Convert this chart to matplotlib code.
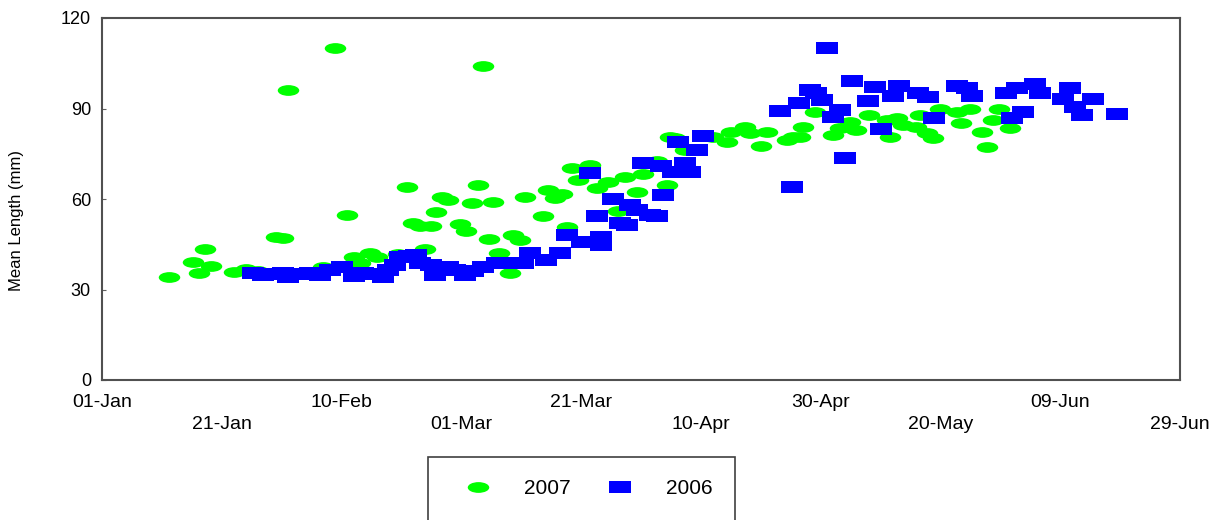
import matplotlib
matplotlib.use("Agg")
import matplotlib.pyplot as plt
from matplotlib.path import Path
from matplotlib.transforms import Affine2D, ScaledTranslation
from matplotlib.patches import Rectangle

plt.rcParams['font.family'] = ['Liberation Sans', 'DejaVu Sans']

# days since 01-Jan and mean length (mm)
days2007 = [11.2, 15.2, 16.2, 17.2, 18.2, 22.0, 24.0, 26.0, 29.1, 30.2, 31.1, 36.9,
            38.9, 40.9, 42.0, 43.1, 44.7, 46.0, 49.5, 50.9, 51.9, 53.1, 53.9, 55.0,
            55.7, 56.7, 57.8, 59.8, 60.8, 61.7, 62.7, 63.7, 64.7, 65.3, 66.3, 68.1,
            68.7, 69.8, 70.6, 73.6, 74.5, 75.6, 76.8, 77.6, 78.4, 79.5, 81.5, 82.6,
            84.5, 86.2, 87.3, 89.3, 90.4, 92.6, 94.3, 94.8, 95.7, 97.3, 102.1, 104.3,
            105.1, 107.4, 108.2, 110.1, 111.0, 114.3, 115.4, 116.5, 117.1, 119.0, 122.1,
            123.2, 124.9, 125.9, 128.0, 131.0, 131.6, 132.7, 133.8, 136.0, 136.6, 137.7,
            138.8, 139.9, 142.7, 143.5, 144.9, 146.9, 147.8, 148.8, 149.7, 151.6]
len2007 = [34.1, 39.1, 35.5, 43.4, 37.8, 35.8, 36.8, 36.0, 47.4, 47.1, 96.1, 37.5,
           110.0, 54.7, 40.9, 38.7, 42.0, 40.9, 41.8, 63.9, 51.9, 51.0, 43.4, 51.0,
           55.7, 60.8, 59.7, 51.6, 49.5, 58.6, 64.5, 104.2, 46.7, 58.9, 42.0, 35.4,
           48.1, 46.4, 60.8, 54.5, 63.0, 60.2, 61.7, 50.6, 70.2, 66.3, 71.3, 63.7,
           65.7, 56.0, 67.2, 62.4, 68.3, 72.7, 64.6, 80.6, 80.1, 76.2, 80.6, 79.0,
           82.3, 84.0, 81.8, 77.7, 82.3, 79.5, 80.6, 80.6, 84.0, 88.9, 81.2,
           83.4, 85.6, 82.9, 87.8, 86.2, 80.6, 86.7, 84.5, 84.0, 87.8, 81.8,
           80.1, 90.0, 88.9, 85.1, 90.0, 82.3, 77.1, 86.2, 90.0, 83.4]

days2006 = [25.2, 26.9, 28.5, 30.3, 31.1, 33.0, 34.7, 36.4, 38.1, 40.0, 42.0, 43.6,
            45.5, 47.0, 47.8, 48.9, 49.7, 51.2, 52.5, 53.1, 55.0, 55.6, 57.8, 59.0,
            60.6, 62.0, 63.7, 65.9, 68.1, 70.3, 71.4, 74.2, 76.5, 77.6, 80.1, 81.5,
            82.6, 83.4, 83.4, 85.4, 86.5, 87.6, 88.2, 89.3, 90.4, 91.5, 92.6, 93.4,
            93.7, 95.4, 96.2, 97.3, 98.2, 99.3, 100.4, 113.2, 115.2, 116.3, 118.2,
            119.3, 120.2, 121.1, 122.1, 123.2, 124.1, 125.2, 127.9, 129.1, 130.0,
            132.0, 133.0, 136.3, 138.0, 138.9, 142.8, 144.5, 145.3, 151.0, 151.9,
            152.7, 153.8, 155.8, 156.6, 160.5, 161.6, 162.5, 163.6, 165.5, 169.4]
len2006 = [35.4, 34.8, 35.2, 35.4, 34.0, 35.0, 35.4, 34.8, 36.5, 37.6, 34.5, 35.4,
           35.0, 34.2, 36.5, 38.1, 40.9, 41.0, 41.4, 38.7, 38.1, 34.8, 37.6, 36.5,
           34.8, 36.0, 37.6, 38.7, 38.7, 38.7, 42.0, 39.8, 42.0, 48.1, 45.8, 68.5,
           54.5, 47.5, 44.7, 59.9, 51.9, 51.4, 58.0, 56.5, 72.0, 54.7, 54.4, 70.9,
           61.3, 69.0, 79.0, 71.8, 69.0, 76.2, 81.0, 89.3, 64.1, 91.7, 96.1,
           95.0, 92.8, 110.2, 87.3, 89.5, 73.5, 99.1, 92.6, 97.2, 83.2,
           94.1, 97.4, 95.0, 93.7, 87.0, 97.5, 96.7, 94.0, 95.0, 86.7,
           96.7, 88.9, 98.2, 95.0, 93.0, 96.7, 90.6, 87.8, 93.0, 88.2]

tick_days = [0, 20, 40, 60, 80, 100, 120, 140, 160, 180]
tick_names = ['01-Jan', '21-Jan', '10-Feb', '01-Mar', '21-Mar', '10-Apr',
              '30-Apr', '20-May', '09-Jun', '29-Jun']

# wide markers like the stretched original
ellipse = Path.unit_circle().transformed(Affine2D().scale(1.0, 0.5))
rect = Path([(-1, -0.52), (1, -0.52), (1, 0.52), (-1, 0.52), (-1, -0.52)],
            [Path.MOVETO, Path.LINETO, Path.LINETO, Path.LINETO, Path.CLOSEPOLY])

fig = plt.figure(figsize=(12.17, 5.2), dpi=100)
ax = fig.add_axes([102/1217, 1 - 380/520, (1180-102)/1217, (380-18)/520])

ax.plot(days2007, len2007, linestyle='none', marker=ellipse, markersize=15.5,
        color='#00ff00', markeredgewidth=0, label='2007')
ax.plot(days2006, len2006, linestyle='none', marker=rect, markersize=15.5,
        color='#0000ff', markeredgewidth=0, label='2006')

ax.set_xlim(0, 180)
ax.set_ylim(0, 120)
ax.set_yticks([0, 30, 60, 90, 120])
ax.set_xticks(tick_days)
labels = []
for i, t in enumerate(tick_names):
    if i % 2 == 1:
        labels.append('\n' + t)
    else:
        labels.append(t)
ax.set_xticklabels(labels, fontsize=14, linespacing=1.4)
# the last few labels sit a little left of their ticks in the original
shifts = {7: -6, 8: -8, 9: -10}
for i, lab in enumerate(ax.get_xticklabels()):
    if i in shifts:
        lab.set_transform(lab.get_transform() +
                          ScaledTranslation(shifts[i] / 100, 0, fig.dpi_scale_trans))
ax.tick_params(axis='y', labelsize=13, direction='in', length=3, pad=8, color='#606060')
ax.tick_params(axis='x', length=0, pad=10)
ax.set_ylabel('Mean Length (mm)', fontsize=12, labelpad=23)
ax.yaxis.set_label_coords(-0.072, 0.44)
for s in ax.spines.values():
    s.set_color('#505050')
    s.set_linewidth(1.5)

# legend box running off the bottom edge
fig.patches.append(Rectangle((428/1217, -0.05), (735-428)/1217, 1.05 - 457/520,
                             transform=fig.transFigure, fill=False,
                             edgecolor='#404040', linewidth=1.2))
fig.legend(loc='center', bbox_to_anchor=(585/1217, 1 - 489/520), ncol=2,
           frameon=False, fontsize=15, handletextpad=1.2, columnspacing=1.4,
           numpoints=1)

fig.savefig('out.png', dpi=100)
